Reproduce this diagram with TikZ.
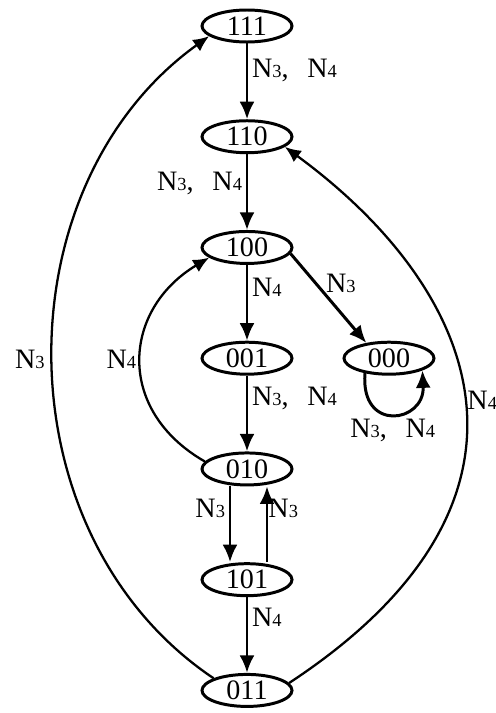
\documentclass[tikz,border=0pt]{standalone}
\usepackage{fontspec}
\setmainfont{Liberation Serif}
\usetikzlibrary{shapes.geometric,arrows.meta,positioning}
\newcommand{\nlab}[1]{N{\fontsize{10.5}{10.5}\selectfont #1}}

\begin{document}
\begin{tikzpicture}[
  node distance=1.515cm and 0.98cm,
  state/.style={ellipse, draw, line width=1.7pt, minimum width=1.8cm,
    minimum height=0.64cm, inner sep=0pt, font=\fontsize{16}{16}\selectfont},
  arr/.style={-{Latex[length=3.5mm,width=3mm]}, line width=1.7pt},
  curvearr/.style={-{Latex[length=3.2mm,width=2.8mm]}, line width=1.3pt},
  lab/.style={font=\fontsize{16}{16}\selectfont, inner sep=2pt}
]
\useasboundingbox (0,0) rectangle (9.9,-14.26);
\node[state] (s111) at (4.94,-0.52) {111};
\node[state, below=of s111] (s110) {110};
\node[state, below=of s110] (s100) {100};
\node[state, below=of s100] (s001) {001};
\node[state, right=of s001] (s000) {000};
\node[state, below=of s001] (s010) {010};
\node[state, below=of s010] (s101) {101};
\node[state, below=of s101] (s011) {011};

\draw[arr] (s111) -- node[lab, right, pos=0.35] {\nlab{3},~~\,\nlab{4}} (s110);
\draw[arr] (s110) -- node[lab, left, pos=0.38] {\nlab{3},~~\,\nlab{4}} (s100);
\draw[arr] (s100) -- node[lab, right, pos=0.29] {\nlab{4}} (s001);
\draw[arr] (s100.-8) -- node[lab, above right, pos=0.45, inner sep=0pt] {\nlab{3}} (s000.146);
\draw[arr] (s001) -- node[lab, right, pos=0.3] {\nlab{3},~~\,\nlab{4}} (s010);
\draw[arr] (s000.-148) .. controls +(-0.1,-1.2) and +(0.05,-1.05) .. node[lab, below] {\nlab{3},~~\,\nlab{4}} (s000.-20);
\draw[arr] ([xshift=-0.34cm]s010.south) -- node[lab, left, pos=0.29] {\nlab{3}} ([xshift=-0.34cm]s101.north);
\draw[arr] ([xshift=0.4cm]s101.north) -- node[lab, right, pos=0.71, inner sep=0pt] {\nlab{3}} ([xshift=0.4cm]s010.south);
\draw[arr] (s101) -- node[lab, right, pos=0.26] {\nlab{4}} (s011);

% long return paths
\draw[curvearr] (s011.160) .. controls (0,-10.7) and (0,-3.73) .. node[lab, left=2pt] {\nlab{3}} (s111.195);
\draw[curvearr] (s011.10) .. controls (11.35,-10) and (9.6,-5.8) .. node[lab, right, inner sep=1pt] {\nlab{4}} (s110.-15);
\draw[curvearr] (s010.170) .. controls (2.3,-8.2) and (2.45,-6.19) .. node[lab, left] {\nlab{4}} (s100.195);
\end{tikzpicture}
\end{document}
